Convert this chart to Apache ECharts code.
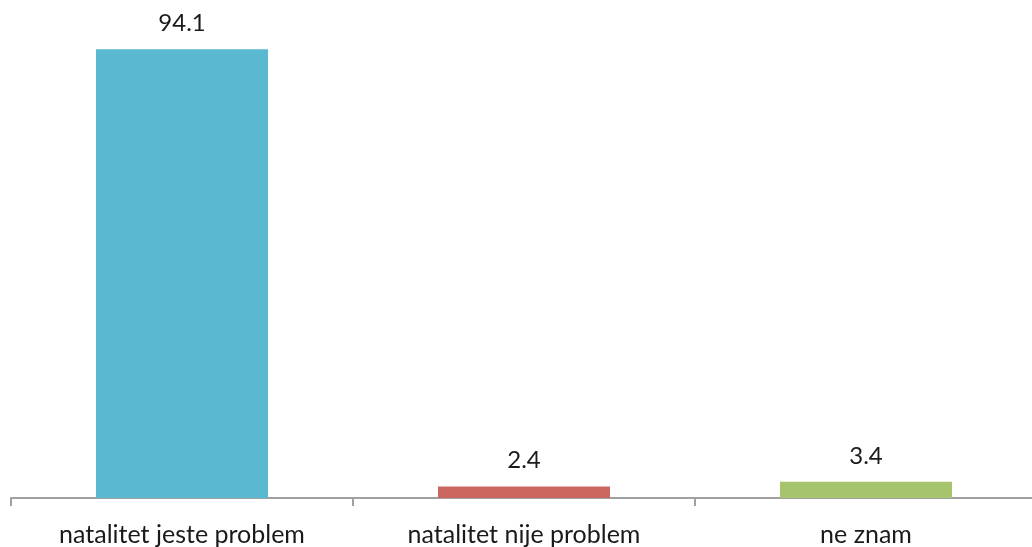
<!DOCTYPE html>
<html>
<head>
<meta charset="utf-8">
<script src="https://cdn.jsdelivr.net/npm/echarts@6/dist/echarts.min.js"></script>
<style>html,body{margin:0;padding:0;background:#fff;overflow:hidden}#c{width:1037px;height:547px}</style>
</head>
<body>
<div id="c"></div>
<script>
const categories = ['natalitet jeste problem', 'natalitet nije problem', 'ne znam'];
const values = [94.1, 2.4, 3.4];
const colors = ['#5bb8d1', '#cc6661', '#a6c46b'];

const chart = echarts.init(document.getElementById('c'), null, {renderer: 'canvas'});
chart.setOption({
  animation: false,
  backgroundColor: '#ffffff',
  grid: {left: 11, right: 0, top: 21, bottom: 49, containLabel: false},
  xAxis: {
    type: 'category',
    data: categories,
    boundaryGap: true,
    axisLine: {lineStyle: {color: '#a0a0a0', width: 2}},
    axisTick: {show: true, length: 8, lineStyle: {color: '#a0a0a0', width: 2}},
    axisLabel: {color: '#1a1a1a', fontSize: 25, fontFamily: 'Lato, "Open Sans", sans-serif', margin: 24}
  },
  yAxis: {
    type: 'value', min: 0, max: 100, show: false,
    splitLine: {show: false}
  },
  series: [{
    type: 'bar',
    barWidth: '50.3%',
    data: values.map((v, i) => ({value: v, itemStyle: {color: colors[i]}})),
    label: {
      show: true, position: 'top', distance: 14,
      color: '#1a1a1a', fontSize: 24, fontFamily: 'Lato, "Open Sans", sans-serif',
      formatter: p => p.value.toFixed(1)
    }
  }]
});
</script>
</body>
</html>
